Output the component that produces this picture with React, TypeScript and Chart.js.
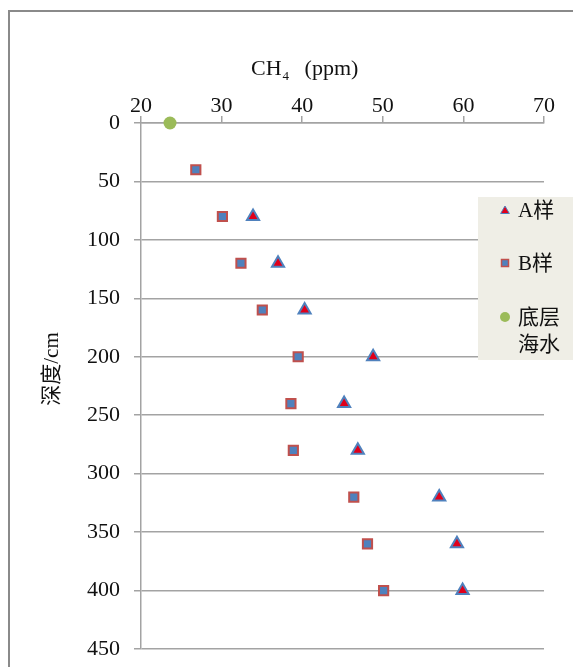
import React, { useEffect, useRef } from "react";
import { Chart, registerables } from "chart.js";
Chart.register(...registerables);

// ---- data ----
const depthA = [80, 120, 160, 200, 240, 280, 320, 360, 400];
const ch4A = [33.9, 37.0, 40.3, 48.8, 45.2, 46.9, 57.0, 59.2, 59.9];
const depthB = [40, 80, 120, 160, 200, 240, 280, 320, 360, 400];
const ch4B = [26.8, 30.1, 32.4, 35.05, 39.5, 38.6, 38.9, 46.4, 48.1, 50.1];
const depthSea = [0];
const ch4Sea = [23.6];
const seriesNames = ["A样", "B样", "底层海水"];
const xMin = 20, xMax = 70, xStep = 10;
const yMin = 0, yMax = 450, yStep = 50;
const yTitle = "深度/cm";

const FONT = "'Liberation Serif', 'Times New Roman', 'Noto Sans CJK SC', serif";
const GRID = "#a3a3a3";
const RED = "#e0001b";
const BLUE = "#4f81bd";
const BRED = "#c0504d";
const GREEN = "#9bbb59";

const decorPlugin = {
  id: "decor",
  beforeDraw(chart: any) {
    const ctx = chart.ctx;
    ctx.save();
    ctx.strokeStyle = "#8a8a8a";
    ctx.lineWidth = 2;
    ctx.strokeRect(9, 11, 700, 800);
    ctx.restore();
  },
  afterDraw(chart: any) {
    const ctx = chart.ctx;
    ctx.save();
    // x title: CH4 (ppm)
    ctx.fillStyle = "#111";
    ctx.textBaseline = "alphabetic";
    ctx.textAlign = "left";
    ctx.font = `22px ${FONT}`;
    const x0 = 251;
    ctx.fillText("CH", x0, 75);
    const w = ctx.measureText("CH").width;
    ctx.font = `13px ${FONT}`;
    ctx.fillText("4", x0 + w + 1, 80);
    ctx.font = `22px ${FONT}`;
    ctx.fillText("(ppm)", x0 + w + 23, 75);
    // y title
    ctx.save();
    ctx.translate(52, 369);
    ctx.rotate(-Math.PI / 2);
    ctx.textAlign = "center";
    ctx.textBaseline = "middle";
    ctx.font = `21px ${FONT}`;
    ctx.fillText(yTitle, 0, 0);
    ctx.restore();

    // legend
    ctx.fillStyle = "#efeee6";
    ctx.fillRect(478, 197, 100, 163);
    const markerX = 505;
    const textX = 518;
    ctx.font = `21px ${FONT}`;
    ctx.textAlign = "left";
    ctx.textBaseline = "middle";
    // A
    ctx.beginPath();
    const r = 5;
    const cy1 = 210;
    for (let i = 0; i < 3; i++) {
      const a = (i * 2 * Math.PI) / 3;
      const px = markerX + Math.sin(a) * r;
      const py = cy1 + 1 - Math.cos(a) * r;
      if (i === 0) ctx.moveTo(px, py); else ctx.lineTo(px, py);
    }
    ctx.closePath();
    ctx.fillStyle = RED;
    ctx.fill();
    ctx.strokeStyle = BLUE;
    ctx.lineWidth = 1;
    ctx.stroke();
    ctx.fillStyle = "#111";
    ctx.fillText(seriesNames[0], textX, cy1 + 1);
    // B
    const cy2 = 263;
    ctx.fillStyle = BLUE;
    ctx.fillRect(markerX - 3.5, cy2 - 3.5, 7, 7);
    ctx.strokeStyle = BRED;
    ctx.lineWidth = 1.5;
    ctx.strokeRect(markerX - 3.5, cy2 - 3.5, 7, 7);
    ctx.fillStyle = "#111";
    ctx.fillText(seriesNames[1], textX, cy2 + 1);
    // Sea
    const cy3 = 317;
    ctx.beginPath();
    ctx.arc(markerX, cy3, 5, 0, Math.PI * 2);
    ctx.fillStyle = GREEN;
    ctx.fill();
    ctx.fillStyle = "#111";
    const name = seriesNames[2];
    ctx.fillText(name.slice(0, 2), textX, cy3 + 1);
    ctx.fillText(name.slice(2), textX, cy3 + 28);
    ctx.restore();
  },
};

export default function App() {
  const ref = useRef<HTMLCanvasElement>(null);
  useEffect(() => {
    document.body.style.margin = "0";
    const canvas = ref.current!;
    const chart = new Chart(canvas, {
      type: "scatter",
      data: {
        datasets: [
          {
            label: seriesNames[0],
            data: depthA.map((d, i) => ({ x: ch4A[i], y: d })),
            pointStyle: "triangle",
            pointRadius: 7,
            backgroundColor: RED,
            borderColor: BLUE,
            borderWidth: 2,
            clip: false,
          },
          {
            label: seriesNames[1],
            data: depthB.map((d, i) => ({ x: ch4B[i], y: d })),
            pointStyle: "rect",
            pointRadius: 6.5,
            backgroundColor: BLUE,
            borderColor: BRED,
            borderWidth: 2,
            clip: false,
          },
          {
            label: seriesNames[2],
            data: depthSea.map((d, i) => ({ x: ch4Sea[i], y: d })),
            pointStyle: "circle",
            pointRadius: 6.5,
            backgroundColor: GREEN,
            borderColor: GREEN,
            borderWidth: 0,
            clip: false,
          },
        ],
      },
      options: {
        animation: false,
        responsive: false,
        maintainAspectRatio: false,
        devicePixelRatio: 1,
        layout: { padding: { left: 0, top: 0, right: 29, bottom: 18 } },
        plugins: { legend: { display: false }, tooltip: { enabled: false } },
        scales: {
          x: {
            type: "linear",
            position: "top",
            min: xMin,
            max: xMax,
            ticks: { stepSize: xStep, padding: -3, color: "#111", font: { family: FONT, size: 22 } },
            grid: { drawOnChartArea: false, drawTicks: true, tickLength: 7, color: GRID, lineWidth: 1.5 },
            border: { display: true, color: GRID, width: 1.5 },
            afterFit: (s: any) => { s.height = 123; s.paddingLeft = 0; s.paddingRight = 0; },
          },
          y: {
            type: "linear",
            reverse: true,
            min: yMin,
            max: yMax,
            ticks: { stepSize: yStep, padding: 14, color: "#111", font: { family: FONT, size: 22 } },
            grid: { drawOnChartArea: true, drawTicks: true, tickLength: 7, color: GRID, lineWidth: 1.5 },
            border: { display: true, color: GRID, width: 1.5 },
            afterFit: (s: any) => { s.width = 141; s.paddingTop = 0; s.paddingBottom = 0; },
          },
        },
      } as any,
      plugins: [decorPlugin],
    });
    return () => chart.destroy();
  }, []);
  return (
    <div style={{ width: 573, height: 667 }}>
      <canvas ref={ref} width={573} height={667} style={{ display: "block", width: 573, height: 667 }} />
    </div>
  );
}
